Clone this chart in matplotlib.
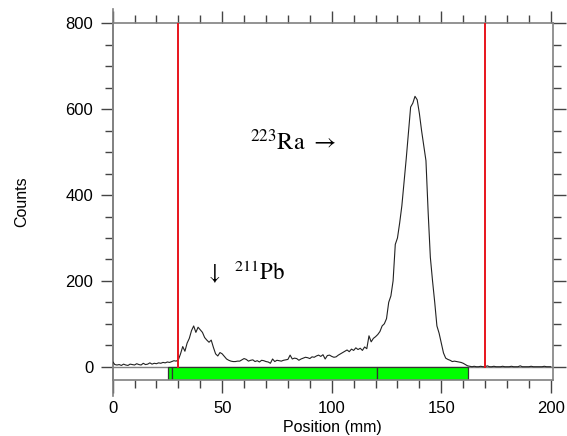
import numpy as np
import matplotlib
matplotlib.use('Agg')
import matplotlib.pyplot as plt
from matplotlib.patches import Rectangle
from matplotlib.lines import Line2D

plt.rcParams['font.family'] = ['Liberation Sans', 'DejaVu Sans']
plt.rcParams['mathtext.fontset'] = 'stix'

# spectrum, one value per mm
position = np.arange(0, 201)
counts = [
    12, 5, 4, 5, 3, 6, 4, 3, 6, 5,
    4, 7, 5, 4, 8, 5, 6, 9, 6, 8,
    7, 9, 8, 10, 9, 11, 10, 12, 14, 13,
    16, 30, 47, 36, 55, 66, 84, 95, 80, 92,
    86, 80, 68, 62, 57, 62, 45, 30, 25, 33,
    30, 24, 18, 15, 13, 12, 12, 13, 13, 16,
    19, 17, 13, 15, 16, 12, 14, 11, 15, 14,
    12, 11, 8, 18, 12, 15, 14, 13, 15, 16,
    17, 27, 18, 20, 19, 15, 18, 20, 22, 21,
    19, 23, 22, 25, 27, 24, 28, 18, 26, 27,
    24, 22, 23, 27, 30, 33, 36, 39, 35, 41,
    38, 44, 40, 43, 38, 46, 42, 72, 58, 66,
    70, 75, 82, 95, 100, 112, 150, 165, 200, 285,
    300, 335, 375, 430, 485, 545, 605, 614, 630, 622,
    590, 550, 515, 480, 360, 255, 200, 150, 95, 78,
    55, 32, 20, 17, 15, 12, 13, 12, 11, 10,
    8, 5, 2, 1, 0, 1, 0, 0, 1, 0,
    0, 2, 0, 0, 1, 0, 0, 0, 1, 0,
    0, 0, 1, 0, 0, 0, 2, 0, 0, 0,
    0, 1, 0, 0, 0, 0, 0, 1, 0, 0,
    0,
]

cursor_lines = [30, 170]
roi_edges = [25.3, 26.9, 120.6, 162.2]

fig = plt.figure(figsize=(5.67, 4.36), dpi=100)
ax = fig.add_axes([0.1986, 0.1284, 0.7768, 0.818])

ymin = -31
ax.plot(position, counts, color='#222222', lw=0.8, zorder=3)
ax.axhline(0, color='#808080', lw=1.0, zorder=2)
for xc in cursor_lines:
    ax.plot([xc, xc], [0, 800], color='#e8141c', lw=1.4, zorder=4)

for a, b in zip(roi_edges[:-1], roi_edges[1:]):
    ax.add_patch(Rectangle((a, ymin), b - a, -ymin, facecolor='#00ff00',
                           edgecolor='#333333', lw=0.9, zorder=2))

ax.text(62.5, 505, r'$^{223}\mathrm{Ra}\ \rightarrow$', fontsize=17.5)
ax.text(42.0, 204, r'$\downarrow\ \ ^{211}\mathrm{Pb}$', fontsize=16.5)

ax.set_xlim(0, 201)
ax.set_ylim(ymin, 800)
ax.set_xticks(np.arange(0, 201, 50))
ax.set_xticks(np.arange(0, 201, 10), minor=True)
ax.set_yticks(np.arange(0, 801, 200))
ax.set_yticks(np.arange(0, 801, 50), minor=True)
ax.tick_params(which='both', direction='out', top=True, right=True,
               color='#444444', labelsize=12)
ax.tick_params(which='major', length=9, width=1)
ax.tick_params(which='minor', length=6, width=1)
ax.tick_params(axis='x', pad=6)
ax.tick_params(axis='y', pad=5)

for s in ax.spines.values():
    s.set_color('#808080')
    s.set_linewidth(1.2)

# left axis line runs a little past the frame
ax.add_line(Line2D([0, 0], [-0.045, 1.04], transform=ax.transAxes,
                   color='#808080', lw=1.2, clip_on=False))

ax.set_xlabel('Position (mm)', fontsize=11.5, labelpad=3)
ax.set_ylabel('Counts', fontsize=11.5, labelpad=26)

fig.savefig('out.png', dpi=100)
